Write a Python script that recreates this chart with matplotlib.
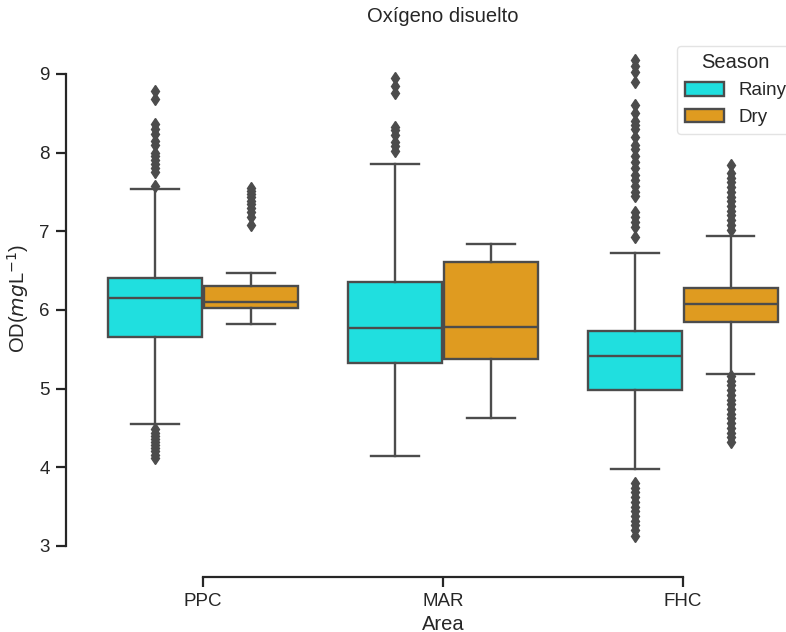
import matplotlib.pyplot as plt
from matplotlib.patches import Patch

plt.rcParams['font.family'] = ['Liberation Sans', 'DejaVu Sans']

areas = ["PPC", "MAR", "FHC"]
seasons = ["Rainy", "Dry"]
season_colors = {"Rainy": "#20dfdf", "Dry": "#df9b20"}

# box summaries per area, one entry per season: (whislo, q1, med, q3, whishi)
rainy_stats = [
    (4.55, 5.65, 6.15, 6.41, 7.53),
    (4.14, 5.32, 5.77, 6.36, 7.85),
    (3.98, 4.98, 5.41, 5.73, 6.72),
]
dry_stats = [
    (5.82, 6.02, 6.10, 6.30, 6.47),
    (4.62, 5.38, 5.78, 6.61, 6.84),
    (5.19, 5.84, 6.07, 6.28, 6.94),
]

rainy_fliers = [
    [8.78, 8.68, 8.36, 8.30, 8.24, 8.15, 8.10, 8.00, 7.95, 7.90, 7.85, 7.80, 7.75, 7.58,
     4.48, 4.44, 4.40, 4.36, 4.32, 4.28, 4.24, 4.20, 4.16, 4.12],
    [8.95, 8.85, 8.76, 8.33, 8.28, 8.22, 8.14, 8.08, 8.02],
    [9.17, 9.10, 9.02, 8.90, 8.60, 8.50, 8.40, 8.35, 8.30, 8.20, 8.10, 8.05, 7.95, 7.88,
     7.80, 7.72, 7.65, 7.58, 7.50, 7.45, 7.25, 7.18, 7.12, 7.05, 6.92,
     3.80, 3.74, 3.68, 3.62, 3.56, 3.50, 3.44, 3.38, 3.32, 3.26, 3.20, 3.13],
]
dry_fliers = [
    [7.55, 7.51, 7.47, 7.43, 7.39, 7.35, 7.30, 7.24, 7.18, 7.08],
    [],
    [7.84, 7.74, 7.68, 7.62, 7.56, 7.50, 7.44, 7.38, 7.32, 7.26, 7.20, 7.14, 7.08, 7.02,
     5.16, 5.10, 5.04, 4.98, 4.92, 4.86, 4.80, 4.74, 4.68, 4.62, 4.56, 4.50, 4.44,
     4.38, 4.32],
]

line_gray = "#4c4c4c"
text_color = "#262626"
lw = 1.7
width = 0.8
box_w = width / 2 * 0.98

fig = plt.figure(figsize=(7.86, 6.32), dpi=100)
ax = fig.add_axes([0.1056, 0.1139, 0.916, 0.829])

for season, stats, fliers, shift in [("Rainy", rainy_stats, rainy_fliers, -0.2),
                                     ("Dry", dry_stats, dry_fliers, 0.2)]:
    bxp_stats = []
    for (lo, q1, med, q3, hi), fl in zip(stats, fliers):
        bxp_stats.append(dict(whislo=lo, q1=q1, med=med, q3=q3, whishi=hi, fliers=fl))
    positions = [i + shift for i in range(len(areas))]
    ax.bxp(
        bxp_stats, positions=positions, widths=box_w, capwidths=box_w / 2,
        patch_artist=True, manage_ticks=False,
        boxprops=dict(facecolor=season_colors[season], edgecolor=line_gray, linewidth=lw),
        medianprops=dict(color=line_gray, linewidth=lw),
        whiskerprops=dict(color=line_gray, linewidth=lw),
        capprops=dict(color=line_gray, linewidth=lw),
        flierprops=dict(marker='d', markersize=6.5, markerfacecolor=line_gray,
                        markeredgecolor=line_gray, linestyle='none'),
    )

ax.set_xlim(-0.5, 2.5)
ax.set_ylim(2.82, 9.48)
ax.set_xticks(range(len(areas)))
ax.set_xticklabels(areas)
ax.set_yticks([3, 4, 5, 6, 7, 8, 9])

# despined, offset axes trimmed to the tick range
for side in ['top', 'right']:
    ax.spines[side].set_visible(False)
ax.spines['left'].set_position(('outward', 12))
ax.spines['bottom'].set_position(('outward', 12))
ax.spines['left'].set_bounds(3, 9)
ax.spines['bottom'].set_bounds(0, 2)
for side in ['left', 'bottom']:
    ax.spines[side].set_color(text_color)
    ax.spines[side].set_linewidth(1.6)
ax.tick_params(axis='both', labelsize=13.5, length=7, width=1.6, color=text_color,
               labelcolor=text_color, pad=5)

ax.set_xlabel("Area", fontsize=14.5, color=text_color, labelpad=3)
ax.set_ylabel("OD($mg$L$^{-1}$)", fontsize=14.5, color=text_color, labelpad=6)
ax.set_title("Oxígeno disuelto", fontsize=14.5, color=text_color, pad=10)

handles = [Patch(facecolor=season_colors[s], edgecolor=line_gray, linewidth=lw, label=s)
           for s in seasons]
leg = ax.legend(handles=handles, title="Season", loc='upper left',
                bbox_to_anchor=(677 / 786, 1 - 46 / 632), bbox_transform=fig.transFigure,
                fontsize=13.5, title_fontsize=14.5, frameon=True, borderaxespad=0,
                handlelength=2.1, handleheight=0.75)
leg.get_frame().set_edgecolor('#dddddd')
for t in leg.get_texts():
    t.set_color(text_color)
leg.get_title().set_color(text_color)

fig.savefig("out.png", dpi=100)
